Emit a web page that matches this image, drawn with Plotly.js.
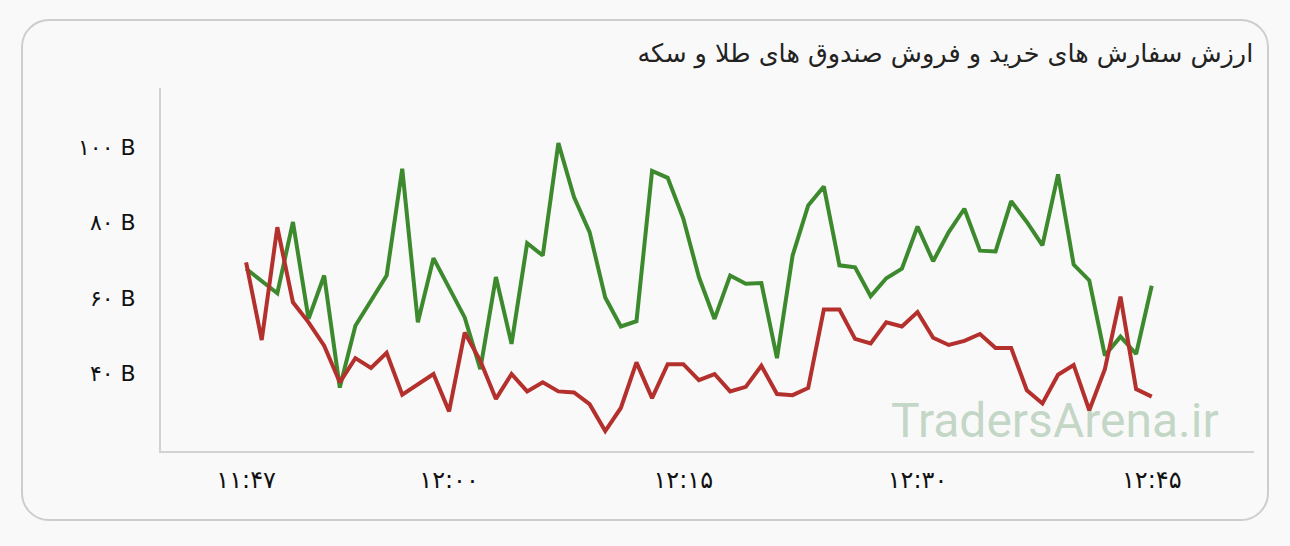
<!DOCTYPE html>
<html>
<head>
<meta charset="utf-8">
<script src="https://cdn.plot.ly/plotly-3.0.1.min.js"></script>
<style>
html,body{margin:0;padding:0;background:#f9f9f9;width:1290px;height:546px;overflow:hidden;}
#card{position:absolute;left:21px;top:19px;width:1244px;height:498px;border:2.5px solid #cdcdcd;border-radius:28px;background:#f9f9f9;}
#chart{position:absolute;left:0;top:0;width:1290px;height:546px;}
</style>
</head>
<body>
<div id="card"></div>
<div id="chart"></div>
<script>
const times = ["11:47","11:48","11:49","11:50","11:51","11:52","11:53","11:54","11:55","11:56",
"11:57","11:58","11:59","12:00","12:01","12:02","12:03","12:04","12:05","12:06",
"12:07","12:08","12:09","12:10","12:11","12:12","12:13","12:14","12:15","12:16",
"12:17","12:18","12:19","12:20","12:21","12:22","12:23","12:24","12:25","12:26",
"12:27","12:28","12:29","12:30","12:31","12:32","12:33","12:34","12:35","12:36",
"12:37","12:38","12:39","12:40","12:41","12:42","12:43","12:44","12:45"];

// buy orders value (billion)
const buyValues = [67.8,64.5,61.3,80.2,54.5,66.0,36.3,52.7,59.5,66.0,
94.3,53.6,70.6,62.7,54.9,41.2,65.6,47.9,74.6,71.3,
101.1,86.8,77.5,60.2,52.5,53.9,93.7,91.9,81.1,65.6,
54.5,66.0,63.8,64.0,44.1,71.3,84.6,89.6,68.7,68.2,
60.5,65.3,67.8,79.0,69.8,77.5,83.7,72.6,72.4,85.7,
80.2,74.0,92.8,68.9,64.7,44.8,49.8,45.2,63.3];

// sell orders value (billion)
const sellValues = [69.5,48.9,78.8,58.9,53.6,47.4,37.7,44.1,41.5,45.5,
34.4,37.1,39.9,30.0,50.9,43.4,33.3,39.9,35.3,37.7,
35.3,35.0,31.9,24.8,30.9,43.0,33.5,42.5,42.5,38.3,
39.9,35.3,36.5,42.1,34.6,34.3,36.2,57.0,57.0,49.2,
48.0,53.6,52.5,56.3,49.5,47.6,48.7,50.5,46.8,46.8,
35.6,32.1,39.7,42.3,30.3,41.2,60.4,35.9,33.9];

const xTickVals = ["11:47","12:00","12:15","12:30","12:45"];
const xTickText = ["۱۱:۴۷","۱۲:۰۰","۱۲:۱۵","۱۲:۳۰","۱۲:۴۵"];
const yTickVals = [40,60,80,100];
const yTickText = ["۴۰ B","۶۰ B","۸۰ B","۱۰۰ B"];

const titleText = "ارزش سفارش های خرید و فروش صندوق های طلا و سکه";
const watermark = "TradersArena.ir";

const traces = [
  {x: times, y: buyValues, type: "scatter", mode: "lines", name: "خرید",
   line: {color: "#3d8a2e", width: 4}},
  {x: times, y: sellValues, type: "scatter", mode: "lines", name: "فروش",
   line: {color: "#b3302d", width: 4}}
];

const layout = {
  width: 1290, height: 546,
  paper_bgcolor: "rgba(0,0,0,0)",
  plot_bgcolor: "rgba(0,0,0,0)",
  showlegend: false,
  margin: {l: 161, r: 36, t: 88, b: 95},
  font: {family: "DejaVu Sans, sans-serif", color: "#111"},
  title: {text: titleText, x: 0.9715, xanchor: "right", xref: "container",
          y: 0.903, yanchor: "middle", yref: "container",
          font: {size: 25.5, color: "#222", family: "DejaVu Sans, sans-serif"}},
  xaxis: {type: "category", range: [-5.45, 64.55], tickmode: "array",
          tickvals: xTickVals, ticktext: xTickText, showgrid: false, zeroline: false,
          showline: true, linecolor: "#d2d2d2", linewidth: 2, ticks: "",
          ticklabelstandoff: 6, tickfont: {size: 24, color: "#111"}},
  yaxis: {range: [19.5, 115.7], tickmode: "array", tickvals: yTickVals, ticktext: yTickText,
          showgrid: false, zeroline: false, showline: true, linecolor: "#d2d2d2", linewidth: 2,
          ticks: "", ticklabelstandoff: 19, tickfont: {size: 22, color: "#111"}},
  annotations: [{text: watermark, xref: "paper", yref: "paper", x: 0.97, y: 0.085,
                 xanchor: "right", yanchor: "middle", showarrow: false,
                 font: {family: "Roboto, sans-serif", size: 48, color: "rgba(150,185,155,0.55)"}}]
};

Plotly.newPlot("chart", traces, layout, {displayModeBar: false, staticPlot: true});
</script>
</body>
</html>
